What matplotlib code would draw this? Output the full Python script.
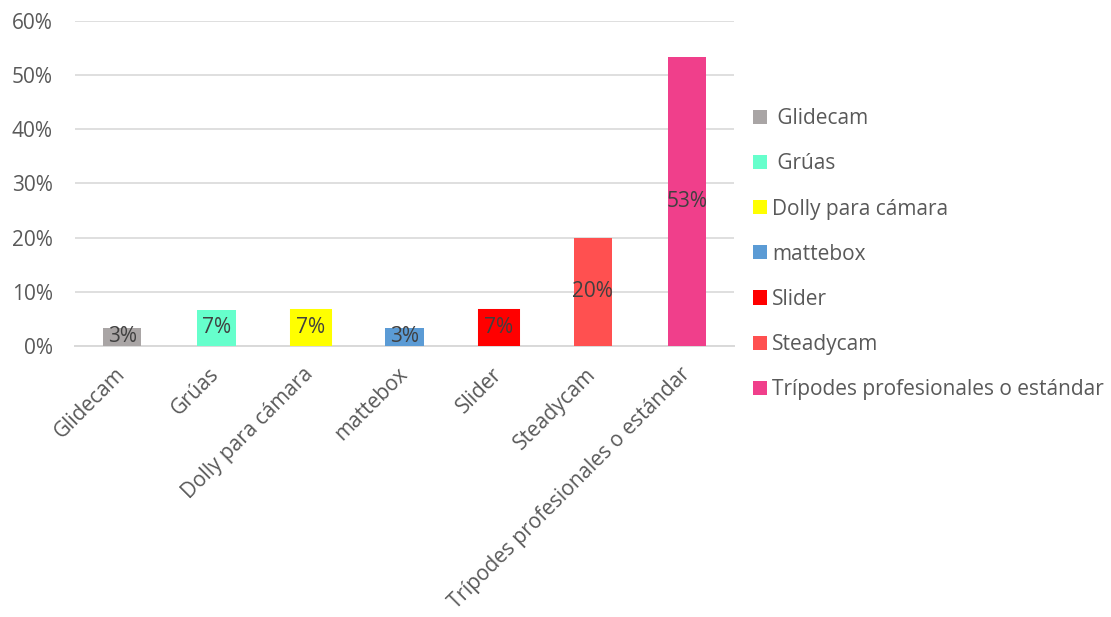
import matplotlib
matplotlib.use("Agg")
import matplotlib.pyplot as plt
from matplotlib.patches import Patch
from matplotlib.ticker import FuncFormatter

categories = ["Glidecam", "Grúas", "Dolly para cámara", "mattebox", "Slider",
              "Steadycam", "Trípodes profesionales o estándar"]
legend_labels = [" Glidecam", " Grúas", "Dolly para cámara", "mattebox", "Slider",
                 "Steadycam", "Trípodes profesionales o estándar"]
values = [3.33, 6.67, 6.67, 3.33, 6.67, 20.0, 53.33]
value_labels = ["3%", "7%", "7%", "3%", "7%", "20%", "53%"]
yticks = [0, 10, 20, 30, 40, 50, 60]

colors = ["#A9A5A5", "#66FFCC", "#FFFF00", "#5B9BD5", "#FF0000", "#FF5050", "#F03F8B"]
edge_w = [0, 0, 2.2, 0, 2.2, 0, 0]

plt.rcParams['font.family'] = ['Open Sans', 'DejaVu Sans']
txt = "#595959"
fs = 15

fig = plt.figure(figsize=(11.11, 6.17), dpi=100)
ax = fig.add_axes([0.0675, 0.4392, 0.5932, 0.5268])

x = list(range(len(categories)))
for i in x:
    ax.bar(i, values[i], width=0.41, color=colors[i], edgecolor=colors[i],
           linewidth=edge_w[i], zorder=3)
    ax.text(i, values[i] / 2, value_labels[i], ha="center", va="center",
            fontsize=fs, color="#404040", zorder=4)

ax.set_xlim(-0.5, len(categories) - 0.5)
ax.set_ylim(0, 60)
ax.set_yticks(yticks)
ax.yaxis.set_major_formatter(FuncFormatter(lambda v, p: f"{int(v)}%"))
ax.grid(axis="y", color="#D9D9D9", linewidth=1.2, zorder=0)
for s in ["top", "right", "left"]:
    ax.spines[s].set_visible(False)
ax.spines["bottom"].set_color("#D9D9D9")
ax.spines["bottom"].set_linewidth(1.4)
ax.tick_params(axis="both", length=0, labelsize=fs, colors=txt)
ax.tick_params(axis="y", pad=16)
ax.set_xticks(x)
ax.set_xticklabels(categories, rotation=45, ha="right", va="center",
                   rotation_mode="anchor", color=txt, fontsize=fs)
ax.tick_params(axis="x", pad=18)

handles = [Patch(facecolor=c, edgecolor="none") for c in colors]
leg = fig.legend(handles, legend_labels, loc="upper left",
                 bbox_to_anchor=(0.661, 0.855), frameon=False,
                 fontsize=fs, labelcolor=txt, handlelength=0.67,
                 handleheight=0.67, handletextpad=0.25, labelspacing=1.16)

fig.savefig("out.png", dpi=100, facecolor="white")
